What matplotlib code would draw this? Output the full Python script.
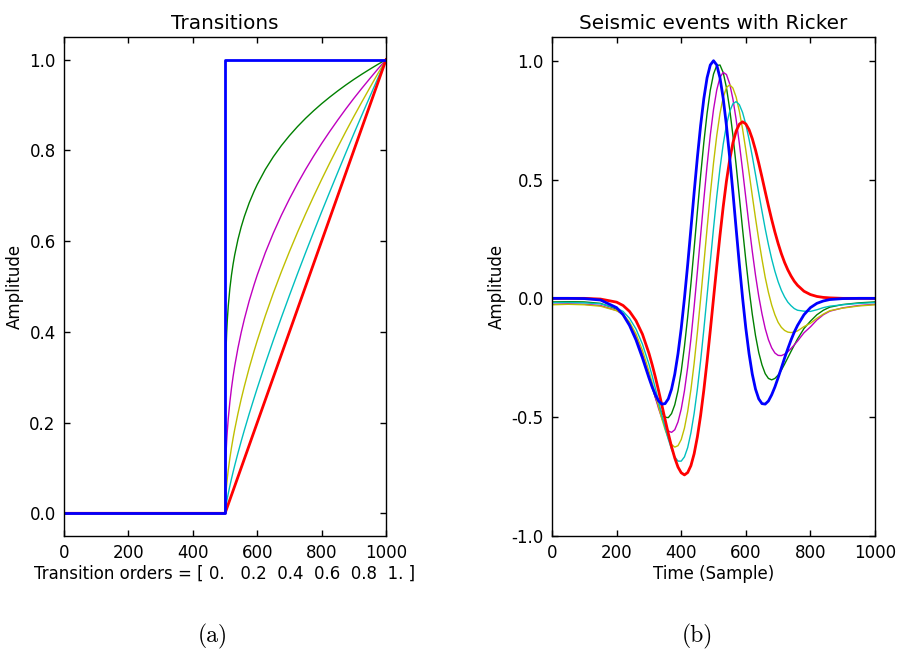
import matplotlib
matplotlib.use("Agg")
import matplotlib.pyplot as plt

plt.rcParams['font.family'] = 'DejaVu Sans'
plt.rcParams['axes.unicode_minus'] = False

# ---- transitions (left) ----
orders = [0.0, 0.2, 0.4, 0.6, 0.8, 1.0]
colours = ['b', 'g', 'm', 'y', 'c', 'r']

step_x = [0, 500, 500, 1000]
step_y = [0, 0, 1, 1]

trans_x = [0, 500, 501, 502, 503, 505, 507, 510, 515, 520, 525, 530, 540, 550, 560, 575, 590,
           600, 625, 650, 675, 700, 725, 750, 775, 800, 825, 850, 875, 900, 925, 950, 975, 1000]
trans_02 = [0, 0, .2885, .3314, .3594, .3981, .4258, .4573, .4959, .5253, .5493, .5697, .6034, .6310,
            .6544, .6843, .7096, .7248, .7579, .7860, .8106, .8325, .8524, .8706, .8873, .9029,
            .9174, .9311, .9441, .9564, .9680, .9791, .9898, 1.0]
trans_04 = [0, 0, .0832, .1098, .1292, .1585, .1813, .2091, .2459, .2759, .3017, .3246, .3641, .3982,
            .4282, .4683, .5035, .5253, .5744, .6178, .6571, .6931, .7266, .7579, .7873, .8152,
            .8416, .8669, .8913, .9147, .9370, .9586, .9797, 1.0]
trans_06 = [0, 0, .0240, .0364, .0464, .0631, .0772, .0956, .1219, .1449, .1657, .1849, .2197, .2513,
            .2802, .3205, .3573, .3807, .4353, .4856, .5326, .5770, .6194, .6598, .6986, .7360,
            .7721, .8072, .8415, .8748, .9070, .9386, .9697, 1.0]
trans_08 = [0, 0, .0069, .0121, .0167, .0251, .0329, .0437, .0605, .0761, .0910, .1054, .1326, .1586,
            .1834, .2193, .2535, .2759, .3299, .3817, .4318, .4804, .5280, .5744, .6198, .6646,
            .7083, .7515, .7944, .8367, .8780, .9189, .9598, 1.0]
trans_10 = [0, 0, .002, .004, .006, .010, .014, .020, .030, .040, .050, .060, .080, .100,
            .120, .150, .180, .200, .250, .300, .350, .400, .450, .500, .550, .600,
            .650, .700, .750, .800, .850, .900, .950, 1.0]

# ---- seismic traces (right) ----
time_x = [0, 50, 100, 150, 200, 220, 240, 260, 280] + list(range(300, 761, 10)) + [780, 800, 820, 840, 860, 900, 950, 1000]

trace_00 = [0.000, -0.000, -0.001, -0.007, -0.039, -0.069, -0.114, -0.175, -0.251,
            -0.334, -0.373, -0.406, -0.432, -0.445, -0.443, -0.423, -0.382, -0.319, -0.233,
            -0.126, 0.001, 0.142, 0.293, 0.446, 0.593, 0.727, 0.841, 0.928, 0.982,
            1.000, 0.982, 0.928, 0.841, 0.727, 0.593, 0.446, 0.293, 0.142, 0.001,
            -0.126, -0.233, -0.319, -0.382, -0.423, -0.443, -0.445, -0.432, -0.406, -0.373,
            -0.334, -0.293, -0.251, -0.212, -0.175, -0.142, -0.114,
            -0.069, -0.039, -0.021, -0.011, -0.005, -0.001, 0.000, 0.000]
trace_02 = [-0.015, -0.014, -0.015, -0.021, -0.045, -0.067, -0.109, -0.168, -0.243,
            -0.331, -0.375, -0.417, -0.454, -0.483, -0.500, -0.502, -0.485, -0.448, -0.389,
            -0.307, -0.202, -0.078, 0.061, 0.211, 0.365, 0.516, 0.656, 0.778, 0.876,
            0.944, 0.980, 0.982, 0.950, 0.887, 0.797, 0.686, 0.560, 0.426, 0.290,
            0.160, 0.039, -0.067, -0.157, -0.228, -0.280, -0.317, -0.337, -0.343, -0.337,
            -0.323, -0.302, -0.277, -0.250, -0.223, -0.197, -0.171,
            -0.127, -0.096, -0.069, -0.050, -0.037, -0.026, -0.019, -0.015]
trace_04 = [-0.025, -0.023, -0.025, -0.030, -0.051, -0.069, -0.106, -0.161, -0.234,
            -0.324, -0.371, -0.418, -0.464, -0.504, -0.537, -0.558, -0.564, -0.553, -0.520,
            -0.466, -0.389, -0.290, -0.171, -0.035, 0.112, 0.264, 0.416, 0.559, 0.687,
            0.795, 0.877, 0.930, 0.951, 0.942, 0.903, 0.839, 0.753, 0.651, 0.539,
            0.423, 0.307, 0.198, 0.097, 0.009, -0.065, -0.127, -0.174, -0.208, -0.230,
            -0.240, -0.241, -0.235, -0.225, -0.211, -0.196, -0.180,
            -0.145, -0.120, -0.091, -0.069, -0.054, -0.040, -0.030, -0.025]
trace_06 = [-0.027, -0.025, -0.027, -0.033, -0.052, -0.066, -0.100, -0.150, -0.219,
            -0.307, -0.355, -0.406, -0.457, -0.507, -0.552, -0.589, -0.615, -0.626, -0.620,
            -0.594, -0.546, -0.476, -0.384, -0.273, -0.144, -0.003, 0.145, 0.294, 0.438,
            0.570, 0.685, 0.778, 0.846, 0.887, 0.899, 0.885, 0.847, 0.787, 0.712,
            0.624, 0.529, 0.432, 0.337, 0.247, 0.165, 0.088, 0.025, -0.028, -0.069,
            -0.101, -0.122, -0.135, -0.142, -0.144, -0.142, -0.137,
            -0.119, -0.105, -0.084, -0.066, -0.052, -0.041, -0.032, -0.027]
trace_08 = [-0.018, -0.017, -0.019, -0.023, -0.041, -0.055, -0.084, -0.129, -0.193,
            -0.277, -0.326, -0.379, -0.434, -0.490, -0.544, -0.593, -0.635, -0.667, -0.685,
            -0.685, -0.667, -0.628, -0.566, -0.484, -0.382, -0.263, -0.131, 0.010, 0.154,
            0.295, 0.428, 0.547, 0.649, 0.729, 0.786, 0.819, 0.828, 0.815, 0.782,
            0.732, 0.669, 0.598, 0.521, 0.443, 0.367, 0.293, 0.226, 0.166, 0.114,
            0.070, 0.034, 0.006, -0.016, -0.031, -0.043, -0.050,
            -0.054, -0.055, -0.048, -0.039, -0.033, -0.027, -0.021, -0.018]
trace_10 = [0.000, 0.000, 0.000, -0.003, -0.016, -0.030, -0.055, -0.094, -0.151,
            -0.231, -0.279, -0.332, -0.389, -0.449, -0.510, -0.569, -0.624, -0.672, -0.710,
            -0.734, -0.743, -0.733, -0.704, -0.654, -0.583, -0.493, -0.386, -0.265, -0.135,
            0.000, 0.135, 0.265, 0.386, 0.493, 0.583, 0.654, 0.704, 0.733, 0.743,
            0.734, 0.710, 0.672, 0.624, 0.569, 0.510, 0.449, 0.389, 0.332, 0.279,
            0.231, 0.188, 0.151, 0.120, 0.094, 0.072, 0.055,
            0.030, 0.016, 0.008, 0.004, 0.002, 0.000, 0.000, 0.000]

order_label = 'Transition orders = [ 0.   0.2  0.4  0.6  0.8  1. ]'


def style_axes(ax):
    ax.tick_params(direction='in', top=True, right=True, length=4, width=1,
                   labelsize=12, pad=6)
    for sp in ax.spines.values():
        sp.set_linewidth(1.0)


fig = plt.figure(figsize=(9.02, 6.6), dpi=100)

# left: transitions
ax1 = fig.add_axes([0.0710, 0.1879, 0.3570, 0.7561])
thin = [(trans_02, 'g'), (trans_04, 'm'), (trans_06, 'y'), (trans_08, 'c')]
for ys, c in thin:
    ax1.plot(trans_x, ys, color=c, lw=1)
ax1.plot(trans_x, trans_10, color='r', lw=2)
ax1.plot(step_x, step_y, color='b', lw=2)
ax1.set_xlim(0, 1000)
ax1.set_ylim(-0.05, 1.05)
ax1.set_xticks([0, 200, 400, 600, 800, 1000])
ax1.set_yticks([0.0, 0.2, 0.4, 0.6, 0.8, 1.0])
ax1.set_yticklabels(['0.0', '0.2', '0.4', '0.6', '0.8', '1.0'])
ax1.set_title('Transitions', fontsize=14.4)
ax1.set_ylabel('Amplitude', fontsize=12)
ax1.set_xlabel(order_label, fontsize=12, labelpad=2)
style_axes(ax1)

# right: traces
ax2 = fig.add_axes([0.6120, 0.1879, 0.3581, 0.7561])
thin = [(trace_02, 'g'), (trace_04, 'm'), (trace_06, 'y'), (trace_08, 'c')]
for ys, c in thin:
    ax2.plot(time_x, ys, color=c, lw=1)
ax2.plot(time_x, trace_10, color='r', lw=2)
ax2.plot(time_x, trace_00, color='b', lw=2)
ax2.set_xlim(0, 1000)
ax2.set_ylim(-1.0, 1.1)
ax2.set_xticks([0, 200, 400, 600, 800, 1000])
ax2.set_yticks([-1.0, -0.5, 0.0, 0.5, 1.0])
ax2.set_yticklabels(['-1.0', '-0.5', '0.0', '0.5', '1.0'])
ax2.set_title('Seismic events with Ricker', fontsize=14.4)
ax2.set_ylabel('Amplitude', fontsize=12)
ax2.set_xlabel('Time (Sample)', fontsize=12, labelpad=2)
style_axes(ax2)

# sub-figure captions
fig.text(213 / 902, 1 - 636 / 660, '(a)', family='cmr10', fontsize=17,
         ha='center', va='center')
fig.text(697 / 902, 1 - 636 / 660, '(b)', family='cmr10', fontsize=17,
         ha='center', va='center')

fig.savefig('out.png', dpi=100)
